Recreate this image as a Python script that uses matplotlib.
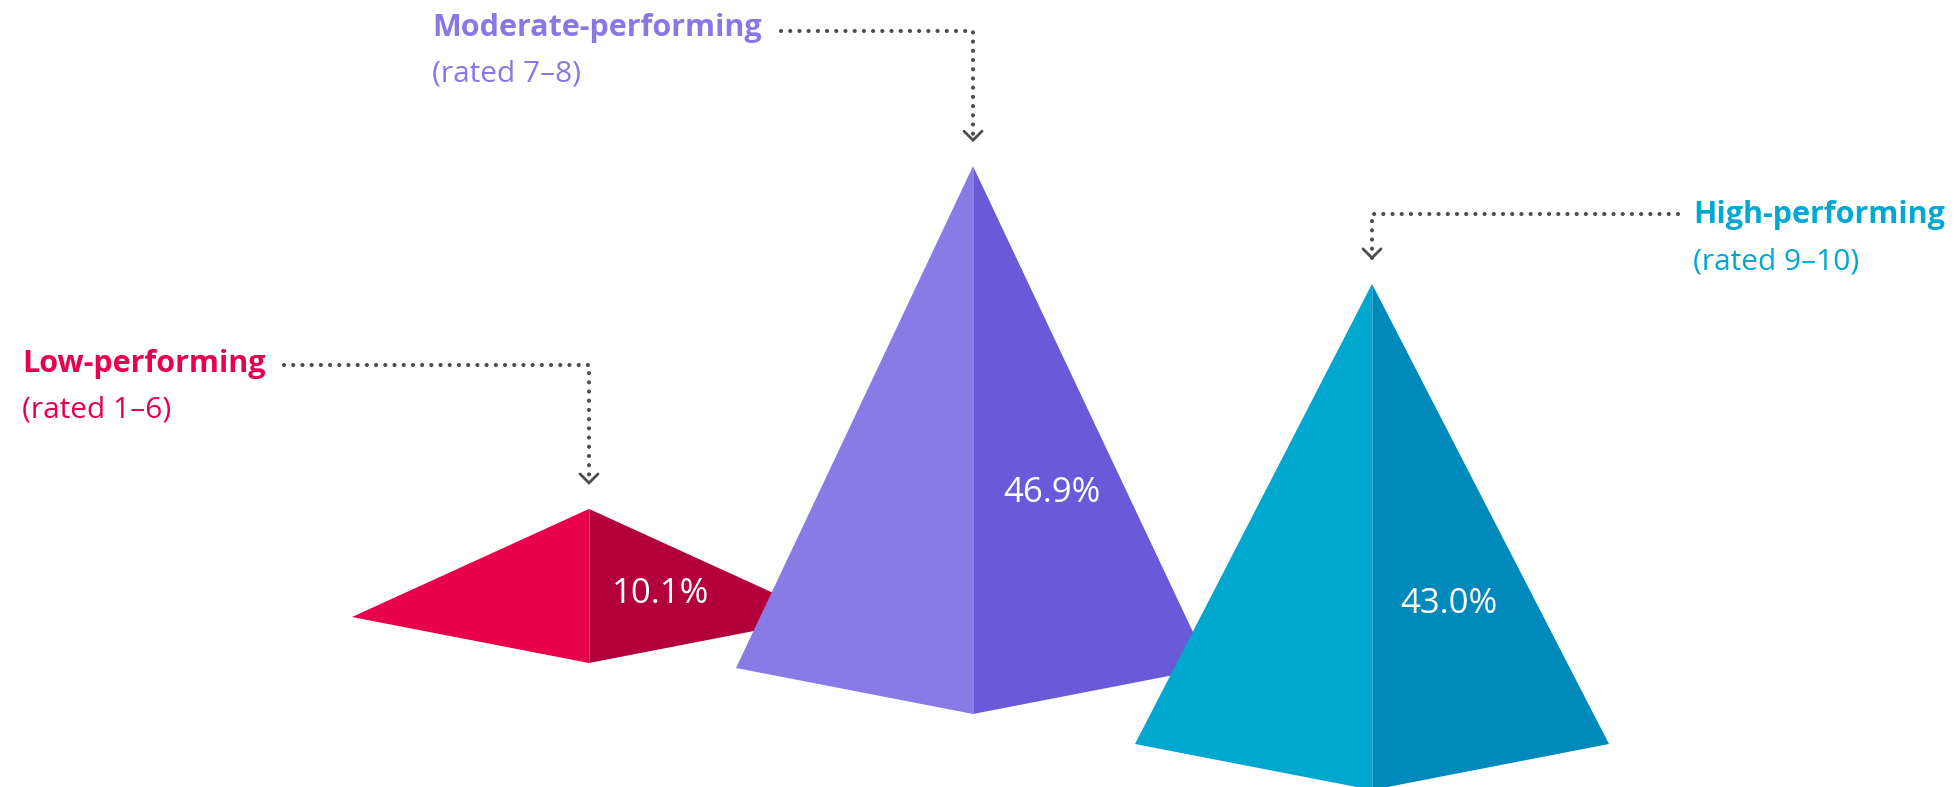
import matplotlib.pyplot as plt
from matplotlib.patches import Polygon

# data
groups = ["Low-performing", "Moderate-performing", "High-performing"]
ratings = ["(rated 1–6)", "(rated 7–8)", "(rated 9–10)"]
shares = [10.1, 46.9, 43.0]

# colours: (label, left face, right face)
label_colors = ["#E8004C", "#8878E6", "#00A8D2"]
left_colors = ["#E8004A", "#897BE6", "#00A8D0"]
right_colors = ["#B3003A", "#6A5AD9", "#008ABB"]

# layout in pixels (y grows downwards)
W, H = 1955, 787
PX_PER_PCT = 10.7
centers_x = [589, 973, 1372]
base_y = [617, 668, 744]
half_w = 237
depth = 46
label_pos = [(661, 603), (1052, 502), (1449, 613)]

# callout layout: title x, title baseline, elbow line start and y
title_x = [22, 432, 1693]
title_base = [372, 36, 223]
line_start_x = [284, 781, 1678]
line_y = [365, 31, 214]

plt.rcParams["font.family"] = ["Open Sans", "DejaVu Sans"]

fig = plt.figure(figsize=(W / 100, H / 100), dpi=100)
ax = fig.add_axes([0, 0, 1, 1])
ax.set_xlim(0, W)
ax.set_ylim(H, 0)
ax.axis("off")

for i, val in enumerate(shares):
    cx, by = centers_x[i], base_y[i]
    apex = (cx, by - val * PX_PER_PCT)
    front = (cx, by + depth)
    left = (cx - half_w, by)
    right = (cx + half_w, by)
    ax.add_patch(Polygon([apex, left, front], closed=True, fc=left_colors[i], ec="none", zorder=2 + i))
    ax.add_patch(Polygon([apex, front, right], closed=True, fc=right_colors[i], ec="none", zorder=2 + i))
    ax.plot([cx, cx], [apex[1], front[1]], color="white", alpha=0.25, lw=0.8, zorder=2 + i)

    lx, ly = label_pos[i]
    ax.text(lx, ly, f"{val:.1f}%", color="white", fontsize=25, ha="center", va="baseline", zorder=10)

    # title and rating range
    ax.text(title_x[i], title_base[i], groups[i], color=label_colors[i], fontsize=22,
            fontweight="bold", ha="left", va="baseline")
    ax.text(title_x[i], title_base[i] + 46, ratings[i], color=label_colors[i], fontsize=21.5,
            ha="left", va="baseline")

    # dotted elbow line to the apex
    tip_y = apex[1] - 26
    ax.plot([line_start_x[i], cx, cx], [line_y[i], line_y[i], tip_y], color="#4D4D4D", lw=3.0,
            linestyle=(0, (0.01, 2.2)), dash_capstyle="round", zorder=11)
    ax.plot([cx - 9, cx, cx + 9], [tip_y - 9, tip_y, tip_y - 9], color="#4D4D4D", lw=2.0,
            solid_capstyle="round", solid_joinstyle="miter", zorder=11)

fig.savefig("out.png", dpi=100, facecolor="white")
